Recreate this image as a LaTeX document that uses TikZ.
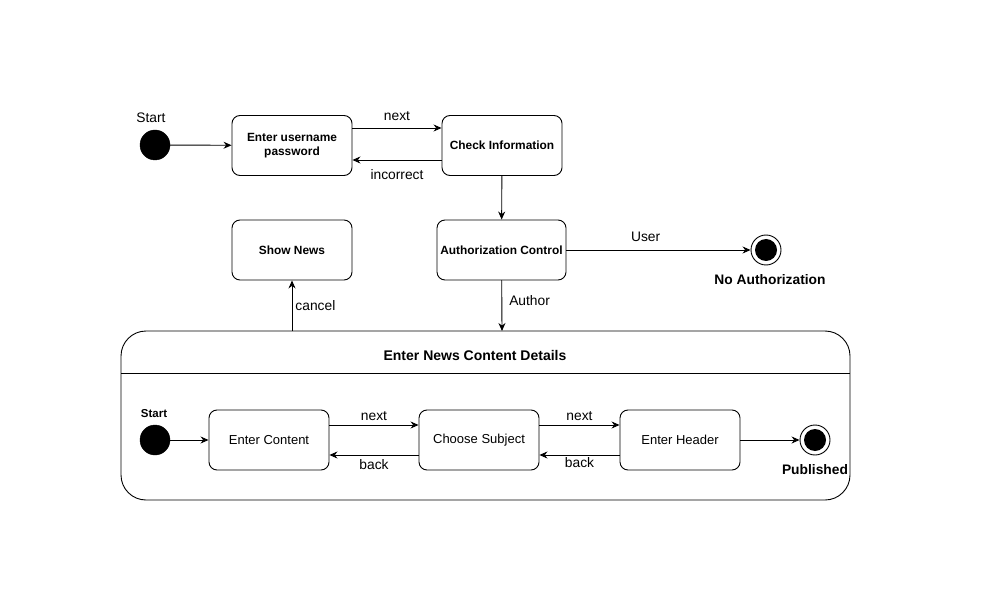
\documentclass[tikz,border=0pt]{standalone}
\usepackage{fontspec}
\setmainfont{Liberation Sans}
\usetikzlibrary{arrows.meta}
\begin{document}
\begin{tikzpicture}[x=1pt,y=-1pt,
  state/.style={draw=black,line width=0.9pt,rounded corners=8pt,minimum width=120pt,minimum height=60pt,inner sep=2pt,align=center,font=\fontsize{11.9}{14}\selectfont\bfseries},
  istate/.style={state,font=\fontsize{13}{15}\selectfont},
  initial/.style={circle,fill=black,draw=black,minimum size=30pt,inner sep=0pt},
  final/.style={circle,draw=black,line width=0.9pt,minimum size=30pt,inner sep=0pt,
    path picture={\fill[black] (path picture bounding box.center) circle (11pt);}},
  lbl/.style={font=\fontsize{13.8}{15}\selectfont,inner sep=1pt},
  blbl/.style={font=\fontsize{13.8}{15}\selectfont\bfseries,inner sep=1pt},
  arr/.style={draw=black,line width=0.9pt,-{Stealth[length=8pt,width=7pt]}}]
\useasboundingbox (0,0) rectangle (981,601);
% top part
\node[initial] (s1) at (155,145) {};
\node[lbl] (s1l) at (151,118) {Start};
\node[state] (eu) at (292,145.5) {Enter username\\password};
\node[state] (ci) at (502,145.5) {Check Information};
\node[state,minimum width=129pt] (ac) at (501.5,250) {Authorization Control};
\node[state] (sn) at (292,250) {Show News};
\node[final] (na) at (766,250) {};
\node[blbl] (nal) at (770,280) {No Authorization};
% container
\draw[line width=0.9pt,rounded corners=25pt] (121,331) rectangle (850,500);
\coordinate (cl) at (121,373);
\coordinate (cr) at (850,373);
\draw[line width=0.9pt] (cl) -- (cr);
\node[font=\fontsize{14}{16}\selectfont\bfseries] (ct) at (475,355) {Enter News Content Details};
\coordinate (ctop1) at (502,331);
\coordinate (ctop2) at (292,331);
% inner
\node[initial] (s2) at (155,440) {};
\node[font=\fontsize{11.5}{13}\selectfont\bfseries,inner sep=1pt] (s2l) at (154,414) {Start};
\node[istate] (ec) at (269,440) {Enter Content};
\node[istate] (cs) at (479,440) {Choose Subject};
\node[istate] (eh) at (680,440) {Enter Header};
\node[final] (pub) at (815,440) {};
\node[blbl] (publ) at (815,470) {Published};
% connectors
\draw[arr] (s1) -- (eu);
\draw[arr] (eu.east |- 0,128) -- node[lbl,above=6pt] {next} (ci.west |- 0,128);
\draw[arr] (ci.west |- 0,160) -- node[lbl,below=8pt] {incorrect} (eu.east |- 0,160);
\draw[arr] (ci) -- (ac);
\draw[arr] (ac) -- node[lbl,pos=0.43,above=7pt] {User} (na);
\draw[arr] (ac) -- (ctop1) node[lbl,pos=0.4,right=6pt] {Author};
\draw[arr] (ctop2) -- (sn) node[lbl,pos=0.5,right=2pt] {cancel};
\draw[arr] (s2) -- (ec);
\draw[arr] (ec.east |- 0,425) -- node[lbl,above=3pt] {next} (cs.west |- 0,425);
\draw[arr] (cs.west |- 0,455) -- node[lbl,below=3pt] {back} (ec.east |- 0,455);
\draw[arr] (cs.east |- 0,425) -- node[lbl,above=3pt] {next} (eh.west |- 0,425);
\draw[arr] (eh.west |- 0,455) -- node[lbl,below=1pt] {back} (cs.east |- 0,455);
\draw[arr] (eh) -- (pub);
\end{tikzpicture}
\end{document}
